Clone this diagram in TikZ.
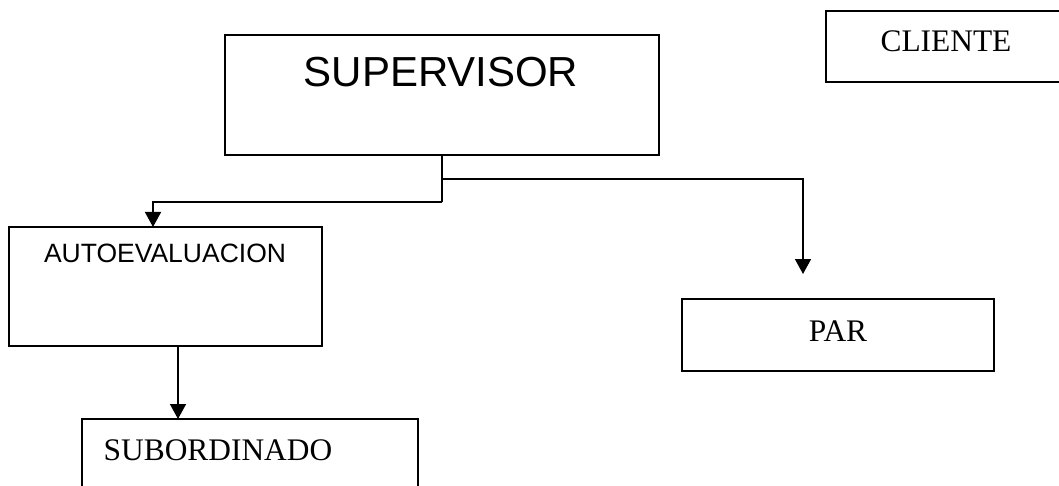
\documentclass[tikz,border=0pt]{standalone}
\usepackage{fontspec}
\setmainfont{Liberation Serif}
\newfontfamily\arialf{Liberation Sans}
\usetikzlibrary{arrows.meta}
\begin{document}
\begin{tikzpicture}[x=1pt,y=-1pt,
  box/.style={draw=black, line width=2pt, rectangle, inner sep=0pt, outer sep=0pt, anchor=north west},
  conn/.style={draw=black, line width=1.6pt},
  arr/.style={conn, -{Triangle[width=16pt,length=15pt]}},
  lbl/.style={anchor=base, inner sep=0pt}]
\useasboundingbox (0,0) rectangle (1059,486);
\clip (0,0) rectangle (1059,486);
% boxes
\node[box, minimum width=434pt, minimum height=120pt] (sup) at (225,35) {};
\node[box, minimum width=250pt, minimum height=71pt] (cli) at (826,11) {};
\node[box, minimum width=313pt, minimum height=119pt] (aut) at (9,227) {};
\node[box, minimum width=312pt, minimum height=72pt] (par) at (682,299) {};
\node[box, minimum width=336pt, minimum height=100pt] (sub) at (82,419) {};
% texts
\node[lbl, font=\arialf\fontsize{42}{50}\selectfont] (supt) at (441,87) {SUPERVISOR};
\node[lbl, font=\fontsize{31.4}{38}\selectfont] (clit) at (946,52) {CLIENTE};
\node[lbl, font=\arialf\fontsize{26.5}{32}\selectfont] (autt) at (165,262) {AUTOEVALUACION};
\node[lbl, font=\fontsize{31.4}{38}\selectfont] (part) at (838,341) {PAR};
\node[lbl, font=\fontsize{31.4}{38}\selectfont] (subt) at (218,460) {SUBORDINADO};
% connectors
\coordinate (j1) at (442,202);
\coordinate (j2) at (442,179);
\coordinate (pe) at (803,274);
\coordinate (ax) at (153,0);
\coordinate (bx) at (178,0);
\draw[conn] (sup.south -| j1) -- (j1);
\draw[arr] (j1) -| (aut.north -| ax);
\draw[arr] (j2) -| (pe);
\draw[arr] (aut.south -| bx) -- (sub.north -| bx);
\end{tikzpicture}
\end{document}
